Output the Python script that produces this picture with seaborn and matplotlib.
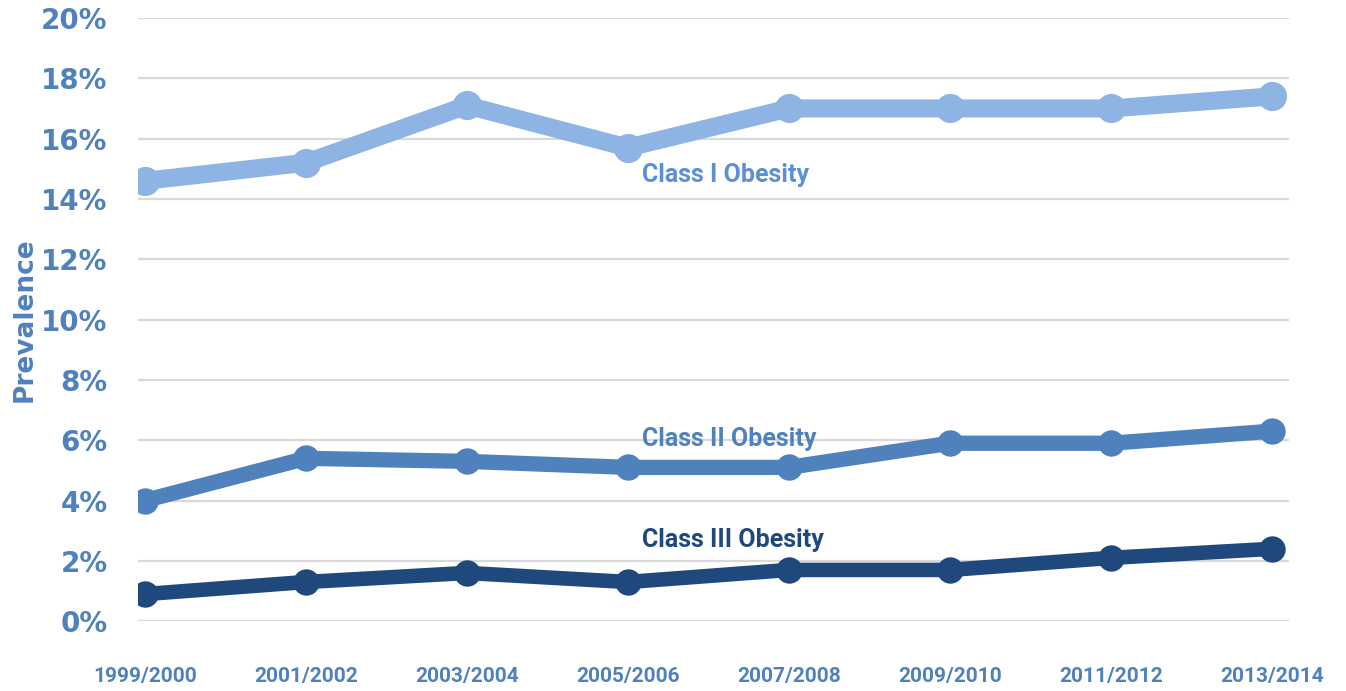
import matplotlib
matplotlib.use("Agg")
import matplotlib.pyplot as plt
import seaborn as sns
import pandas as pd
from matplotlib.ticker import FuncFormatter

periods = ["1999/2000", "2001/2002", "2003/2004", "2005/2006",
           "2007/2008", "2009/2010", "2011/2012", "2013/2014"]
class1 = [14.6, 15.2, 17.1, 15.7, 17.0, 17.0, 17.0, 17.4]
class2 = [4.0, 5.4, 5.3, 5.1, 5.1, 5.9, 5.9, 6.3]
class3 = [0.9, 1.3, 1.6, 1.3, 1.7, 1.7, 2.1, 2.4]
series_names = ["Class I Obesity", "Class II Obesity", "Class III Obesity"]
y_ticks = [0, 2, 4, 6, 8, 10, 12, 14, 16, 18, 20]

sns.set_theme(style="white")
plt.rcParams['font.family'] = ['DejaVu Sans']

df = pd.DataFrame({
    "period": periods * 3,
    "value": class1 + class2 + class3,
    "series": [series_names[0]] * 8 + [series_names[1]] * 8 + [series_names[2]] * 8,
})

colors = {"Class I Obesity": "#8EB4E3", "Class II Obesity": "#4F81BD",
          "Class III Obesity": "#1F497D"}
lws = {"Class I Obesity": 13, "Class II Obesity": 11, "Class III Obesity": 10.5}
mss = {"Class I Obesity": 21, "Class II Obesity": 19, "Class III Obesity": 19}
label_colors = {"Class I Obesity": "#5B8FD6", "Class II Obesity": "#4F81BD",
                "Class III Obesity": "#1F497D"}

fig = plt.figure(figsize=(13.46, 6.91), dpi=100)
ax = fig.add_axes([0.1025, 0.101, 0.8555, 0.873])

for name in series_names:
    sub = df[df["series"] == name]
    sns.lineplot(data=sub, x="period", y="value", ax=ax, color=colors[name],
                 linewidth=lws[name], marker="o", markersize=mss[name],
                 markeredgewidth=0, sort=False, legend=False, zorder=3)

ax.set_xlim(-0.043, 7.11)
ax.set_ylim(0, 20)
ax.set_yticks(y_ticks)
ax.yaxis.set_major_formatter(FuncFormatter(lambda v, p: f"{int(round(v))}%"))
ax.grid(axis="y", color="#D9D9D9", linewidth=1.6)
ax.grid(axis="x", visible=False)
for s in ax.spines.values():
    s.set_visible(False)

tick_color = "#4F81BD"
ax.tick_params(axis="y", length=0, pad=22, labelsize=20, labelcolor=tick_color)
for t in ax.get_yticklabels():
    t.set_fontweight("bold")
ax.tick_params(axis="x", length=0, pad=33, labelcolor=tick_color)
narrow = ['Roboto', 'DejaVu Sans']
for t in ax.get_xticklabels():
    t.set_fontweight("bold")
    t.set_fontsize(15)
    t.set_family(narrow)

ax.set_xlabel("")
ax.set_ylabel("Prevalence", fontsize=19, fontweight="bold", color=tick_color)
ax.yaxis.set_label_coords(-0.087, 0.5)

label_pos = {"Class I Obesity": (3.09, 14.8), "Class II Obesity": (3.09, 6.05),
             "Class III Obesity": (3.09, 2.7)}
for name in series_names:
    x, y = label_pos[name]
    ax.text(x, y, name, color=label_colors[name], fontsize=18, fontweight="bold",
            family=narrow, va="center", ha="left", zorder=4)

fig.savefig("out.png", dpi=100)
